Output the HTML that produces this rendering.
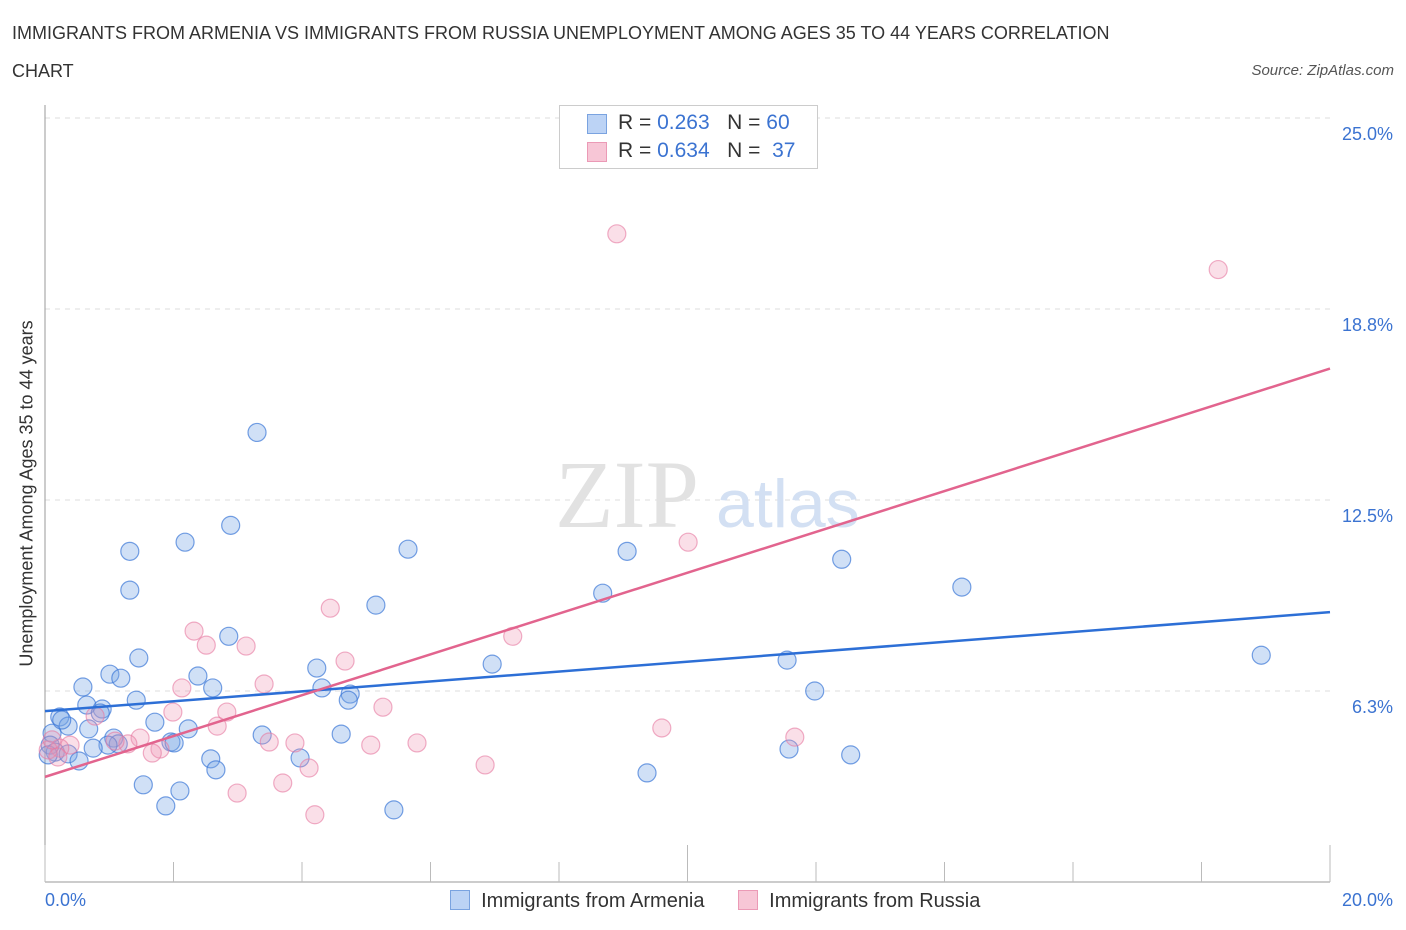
<!DOCTYPE html>
<html><head><meta charset="utf-8"><style>
body{margin:0;background:#fff;font-family:"Liberation Sans",sans-serif;}
#wrap{position:relative;width:1406px;height:930px;overflow:hidden;}
.t{position:absolute;color:#333;}
</style></head><body>
<div id="wrap">
<div class="t" style="left:12px;top:14px;font-size:18px;line-height:38px;width:1160px;color:#333">IMMIGRANTS FROM ARMENIA VS IMMIGRANTS FROM RUSSIA UNEMPLOYMENT AMONG AGES 35 TO 44 YEARS CORRELATION CHART</div>
<div class="t" style="right:12px;top:62px;font-size:15px;font-style:italic;color:#555">Source: ZipAtlas.com</div>
<svg id="svg" width="1406" height="930" style="position:absolute;left:0;top:0"></svg>
</div>
<script>
const xTicksMinor=[0,2,4,6,8,10,12,14,16,18,20];
const yTicks=[6.25,12.5,18.75,25];
const yTickLabels=["6.3%","12.5%","18.8%","25.0%"];
const blueX=[3.30,2.89,2.18,1.32,5.65,9.06,12.40,1.32,14.27,8.68,5.15,2.86,1.46,4.23,6.96,11.55,1.01,2.38,1.18,0.59,2.61,4.31,11.98,4.75,1.42,4.72,0.65,0.89,0.23,1.71,0.36,2.23,0.68,0.11,3.38,4.61,1.07,0.08,1.14,0.98,1.96,2.01,0.75,18.93,0.16,0.36,0.53,2.58,3.97,11.58,12.54,2.66,9.37,1.53,2.10,1.88,5.43,0.05,0.26,0.86];
const blueY=[14.71,11.67,11.12,10.82,10.89,10.82,10.56,9.55,9.65,9.45,9.06,8.04,7.33,7.00,7.13,7.26,6.80,6.74,6.67,6.38,6.35,6.35,6.25,6.15,5.95,5.95,5.79,5.66,5.40,5.23,5.10,5.01,5.01,4.87,4.81,4.84,4.71,4.48,4.52,4.48,4.58,4.55,4.38,7.42,4.25,4.19,3.96,4.03,4.06,4.35,4.16,3.67,3.57,3.18,2.98,2.49,2.36,4.16,5.30,5.53];
const pinkX=[8.90,18.26,10.01,4.44,7.28,2.32,2.51,3.13,4.67,2.13,3.41,5.26,1.99,2.83,0.78,2.68,9.60,11.67,1.48,0.39,1.29,3.89,3.49,5.79,5.07,1.79,1.67,0.23,0.05,0.20,6.85,4.11,3.70,2.99,4.20,0.11,1.09];
const pinkY=[21.21,20.04,11.12,8.96,8.04,8.21,7.75,7.72,7.23,6.35,6.48,5.72,5.56,5.56,5.43,5.10,5.04,4.74,4.71,4.48,4.52,4.55,4.58,4.55,4.48,4.35,4.22,4.38,4.32,4.09,3.83,3.73,3.24,2.91,2.20,4.65,4.61];
const blueTrend=[5.59,8.83];
const pinkTrend=[3.44,16.80];
const X=v=>45+v/20*1285, Y=v=>882-v*30.56;
const s=document.getElementById('svg'),NS='http://www.w3.org/2000/svg';
function mk(tag,at,name){const e=document.createElementNS(NS,tag);for(const k in at)e.setAttribute(k,at[k]);


s.appendChild(e);return e;}
yTicks.forEach((v,i)=>{mk('line',{x1:45,x2:1330,y1:Y(v),y2:Y(v),stroke:'#ddd','stroke-dasharray':'5,5'},'gridline');
const t=mk('text',{x:1393,y:Y(v)+22,'text-anchor':'end',fill:'#3b73d1','font-size':18},'y-tick-label');t.textContent=yTickLabels[i];});
mk('line',{x1:45,x2:45,y1:105,y2:882,stroke:'#999'},'y-axis');
mk('line',{x1:45,x2:1330,y1:882,y2:882,stroke:'#999'},'x-axis');
xTicksMinor.forEach(v=>mk('line',{x1:X(v),x2:X(v),y1:v%10==0?845:862,y2:882,stroke:'#bbb'},'x-tick'));
const wz=mk('text',{x:555,y:527,'font-size':96,'font-family':'Liberation Serif,serif',fill:'#e2e2e2'},'watermark');wz.textContent='ZIP';
const wa=mk('text',{x:716,y:527,'font-size':68,fill:'#d3e0f3'},'watermark');wa.textContent='atlas';
blueX.forEach((v,i)=>mk('circle',{cx:X(v),cy:Y(blueY[i]),r:9,fill:'rgba(120,165,230,0.35)',stroke:'rgba(60,120,215,0.7)','stroke-width':1.2},'blue-point'));
pinkX.forEach((v,i)=>mk('circle',{cx:X(v),cy:Y(pinkY[i]),r:9,fill:'rgba(240,150,180,0.3)',stroke:'rgba(230,120,160,0.6)','stroke-width':1.2},'pink-point'));
mk('line',{x1:X(0),y1:Y(blueTrend[0]),x2:X(20),y2:Y(blueTrend[1]),stroke:'#2d6fd6','stroke-width':2.5},'blue-trend-line');
mk('line',{x1:X(0),y1:Y(pinkTrend[0]),x2:X(20),y2:Y(pinkTrend[1]),stroke:'#e2648e','stroke-width':2.5},'pink-trend-line');
</script>
<div class="t" style="left:45px;top:890px;font-size:18px;color:#3b73d1">0.0%</div>
<div class="t" style="right:13px;top:890px;font-size:18px;color:#3b73d1">20.0%</div>
<div class="t" style="left:-168px;top:483px;width:390px;text-align:center;font-size:18px;transform:rotate(-90deg)">Unemployment Among Ages 35 to 44 years</div>
<div style="position:absolute;left:559px;top:105px;width:257px;height:62px;border:1px solid #ccc;background:#fff;font-size:21px;color:#333">
<div style="position:absolute;left:27px;top:8px;width:18px;height:18px;background:#bcd3f5;border:1px solid #7aa3e0"></div>
<div style="position:absolute;left:58px;top:5px">R = <span style="color:#3b73d1">0.263</span>&nbsp;&nbsp;&nbsp;N = <span style="color:#3b73d1">60</span></div>
<div style="position:absolute;left:27px;top:36px;width:18px;height:18px;background:#f7c6d6;border:1px solid #eb9ab6"></div>
<div style="position:absolute;left:58px;top:33px">R = <span style="color:#3b73d1">0.634</span>&nbsp;&nbsp;&nbsp;N = &nbsp;<span style="color:#3b73d1">37</span></div>
</div>
<div style="position:absolute;left:450px;top:890px;font-size:20px;color:#333">
<span style="display:inline-block;width:18px;height:18px;background:#bcd3f5;border:1px solid #7aa3e0;vertical-align:-3px"></span>&nbsp; Immigrants from Armenia
<span style="display:inline-block;width:18px;height:18px;background:#f7c6d6;border:1px solid #eb9ab6;vertical-align:-3px;margin-left:28px"></span>&nbsp; Immigrants from Russia
</div>
</body></html>
